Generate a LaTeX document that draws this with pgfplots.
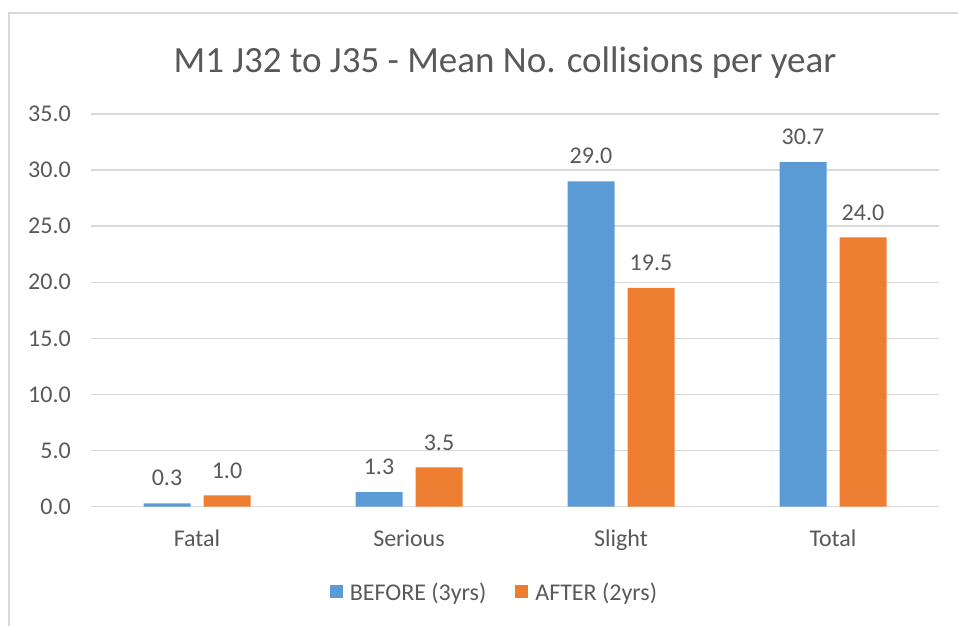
\documentclass[border=0pt]{standalone}
\usepackage{fontspec}
\setmainfont{Carlito}
\usepackage{pgfplots}
\pgfplotsset{compat=1.18}
\definecolor{cblue}{HTML}{5B9BD5}
\definecolor{corange}{HTML}{ED7D31}
\definecolor{ctext}{HTML}{595959}
\definecolor{cgrid}{HTML}{D9D9D9}
\begin{document}
\begin{tikzpicture}[x=1pt,y=1pt]
\useasboundingbox (0,0) rectangle (958,626);
\draw[cgrid, line width=1.8pt] (9,0) -- (9,613) -- (958,613);
\node[text=ctext, anchor=base, inner sep=0pt, font=\fontsize{37}{44}\selectfont] at (505,553) {M1 J32 to J35 - Mean No. collisions per year};
\begin{axis}[
  at={(91pt,119.3pt)}, anchor=south west,
  scale only axis, width=848pt, height=392.7pt,
  ybar=13pt, bar width=47pt,
  xmin=-0.5, xmax=3.5, ymin=0, ymax=35,
  enlargelimits=false,
  xtick={0,1,2,3}, xticklabels={Fatal,Serious,Slight,Total},
  ytick={0,5,...,35},
  yticklabel={\pgfmathprintnumber[fixed,fixed zerofill,precision=1,assume math mode=true]{\tick}},
  major tick length=0pt,
  axis x line*=bottom, axis y line*=left,
  axis line style={draw=none},
  ymajorgrids, grid style={cgrid, line width=1.4pt},
  tick label style={text=ctext, font=\fontsize{24}{29}\selectfont, inner sep=0pt},
  xticklabel style={anchor=base, yshift=-40pt},
  yticklabel style={anchor=east, xshift=-20pt},
  nodes near coords={\pgfmathprintnumber[fixed,fixed zerofill,precision=1,assume math mode=true]{\pgfplotspointmeta}},
  every node near coord/.append style={text=ctext, font=\fontsize{24}{29}\selectfont, inner sep=0pt, anchor=south, yshift=17pt},
  legend image code/.code={\fill[#1] (0pt,-6.5pt) rectangle (13pt,6.5pt);},
  legend columns=2,
  legend style={at={(0.4746,-0.2172)}, anchor=center, draw=none, fill=none, inner sep=0pt,
    nodes={inner sep=0pt, text=ctext, font=\fontsize{24}{29}\selectfont},
    /tikz/every odd column/.append style={column sep=7pt},
    /tikz/every even column/.append style={column sep=29pt}},
]
\addplot[fill=cblue, draw=none] coordinates {(0,0.3) (1,1.3) (2,29.0) (3,30.7)};
\addplot[fill=corange, draw=none] coordinates {(0,1.0) (1,3.5) (2,19.5) (3,24.0)};
\legend{BEFORE (3yrs), AFTER (2yrs)}
\end{axis}
\end{tikzpicture}
\end{document}
